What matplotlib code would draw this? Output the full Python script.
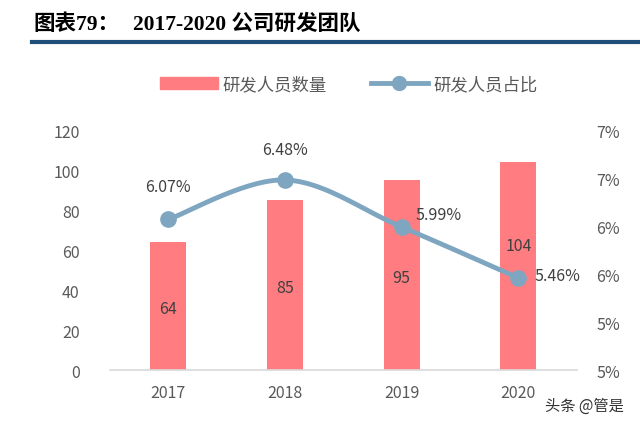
import numpy as np
import matplotlib.pyplot as plt
from matplotlib.lines import Line2D
from matplotlib.patches import Patch

plt.rcParams['font.family'] = ['Noto Sans CJK SC', 'DejaVu Sans']

years = ['2017', '2018', '2019', '2020']
staff = [64, 85, 95, 104]
ratio = [6.07, 6.48, 5.99, 5.46]
ratio_ticks = [4.5, 5.0, 5.5, 6.0, 6.5, 7.0]
ratio_tick_labels = ['5%', '5%', '6%', '6%', '7%', '7%']

bar_color = '#FF7C80'
line_color = '#7FA6C0'
text_color = '#595959'

fig = plt.figure(figsize=(6.4, 4.31), dpi=100)
ax = fig.add_axes([0.172, 0.139, 0.729, 0.557])
ax2 = ax.twinx()

x = np.arange(len(years))
ax.bar(x, staff, width=0.31, color=bar_color, zorder=2)
ax.set_xlim(-0.5, 3.5)
ax.set_ylim(0, 120)
ax.set_yticks(range(0, 121, 20))
ax.set_xticks(x)
ax.set_xticklabels(years)
for s in ['top', 'right', 'left']:
    ax.spines[s].set_visible(False)
    ax2.spines[s].set_visible(False)
ax2.spines['bottom'].set_visible(False)
ax.spines['bottom'].set_color('#D9D9D9')
ax.spines['bottom'].set_linewidth(1.2)
ax.tick_params(axis='both', length=0, labelsize=11.5, colors=text_color)
ax.tick_params(axis='x', pad=10)
ax.tick_params(axis='y', pad=22)

# smooth line like excel (catmull-rom through the data points)
xs, ys = [], []
px = np.array(x, dtype=float)
py = np.array(ratio)
for i in range(len(px) - 1):
    p0 = (px[max(i - 1, 0)], py[max(i - 1, 0)])
    p1 = (px[i], py[i])
    p2 = (px[i + 1], py[i + 1])
    p3 = (px[min(i + 2, len(px) - 1)], py[min(i + 2, len(px) - 1)])
    t = np.linspace(0, 1, 30)
    for k in range(2):
        a, b, c, d = p0[k], p1[k], p2[k], p3[k]
        v = 0.5 * ((2 * b) + (-a + c) * t + (2 * a - 5 * b + 4 * c - d) * t ** 2
                   + (-a + 3 * b - 3 * c + d) * t ** 3)
        (xs if k == 0 else ys).extend(v)
ax2.plot(xs, ys, color=line_color, lw=3.5, zorder=3, solid_capstyle='round')
ax2.plot(x, ratio, 'o', color=line_color, ms=11, zorder=4)
ax2.set_ylim(4.5, 7.0)
ax2.set_yticks(ratio_ticks)
ax2.set_yticklabels(ratio_tick_labels)
ax2.tick_params(axis='y', length=0, labelsize=11.5, colors=text_color, pad=14)

# bar labels
for i, v in enumerate(staff):
    yy = v / 2 - 1 if i < 3 else 62.5
    ax.text(i, yy, str(v), ha='center', va='center', fontsize=11.5, color='#404040', zorder=5)

# line labels
offsets = [(0, 0.34, 'center'), (0, 0.32, 'center'), (0.12, 0.13, 'left'), (0.14, 0.02, 'left')]
for i, r in enumerate(ratio):
    dx, dy, ha = offsets[i]
    ax2.text(i + dx, r + dy, f'{r:.2f}%', ha=ha, va='center', fontsize=11.5, color='#404040', zorder=5)

# title and rule
title_font = ['Liberation Serif', 'Noto Sans CJK SC']
fig.text(0.052, 0.942, '图表79：', fontsize=15.5, fontweight='bold', color='black', va='center',
         family=title_font)
fig.text(0.208, 0.942, '2017-2020 公司研发团队', fontsize=15.5, fontweight='bold', color='black',
         va='center', family=title_font)
fig.add_artist(Line2D([0.05, 1.0], [0.900, 0.900], color='#1F4E79', lw=3))

# legend
handles = [Patch(color=bar_color),
           Line2D([0], [0], color=line_color, lw=3.5, marker='o', ms=10)]
fig.legend(handles, ['研发人员数量', '研发人员占比'], loc='center', bbox_to_anchor=(0.545, 0.803),
           ncol=2, frameon=False, fontsize=12.5, labelcolor=text_color,
           handlelength=3.3, handletextpad=0.3, columnspacing=2.5)

fig.text(0.852, 0.058, '头条 @管是', fontsize=11, color='#333333', va='center')

fig.savefig('out.png', dpi=100)
